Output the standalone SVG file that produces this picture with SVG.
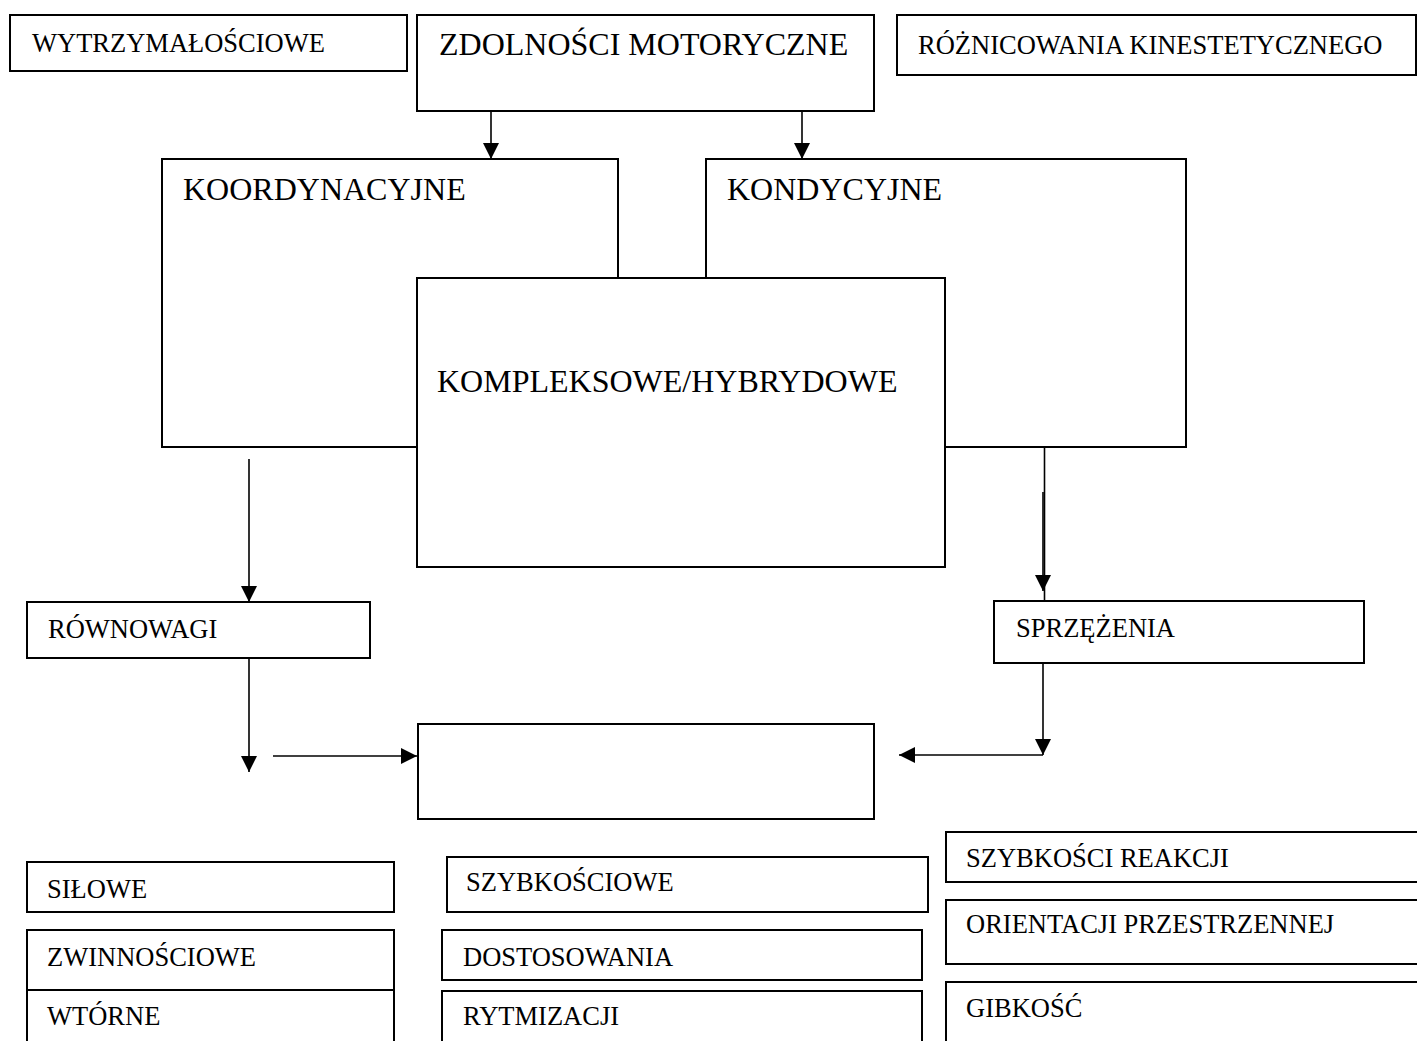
<svg xmlns="http://www.w3.org/2000/svg" width="1417" height="1041" viewBox="0 0 1417 1041">
  <style>
    .box { fill: #fff; stroke: #000; stroke-width: 2; }
    .lbl { font-family: "Liberation Serif", "Times New Roman", serif; font-size: 26.5px; fill: #000; }
    .big { font-family: "Liberation Serif", "Times New Roman", serif; font-size: 32px; fill: #000; }
    .wire { fill: none; stroke: #000; stroke-width: 1.6; }
  </style>
  <defs>
    <marker id="arrow" viewBox="0 0 16 16" refX="16" refY="8" markerWidth="16" markerHeight="16" markerUnits="userSpaceOnUse" orient="auto">
      <path d="M0,0 L16,8 L0,16 Z" fill="#000"/>
    </marker>
  </defs>

  <rect width="1417" height="1041" fill="#fff"/>

  <!-- top row -->
  <g id="wytrzymalosciowe">
    <rect class="box" x="10" y="15" width="397" height="56"/>
    <text class="lbl" x="32" y="52">WYTRZYMAŁOŚCIOWE</text>
  </g>
  <g id="zdolnosci-motoryczne">
    <rect class="box" x="417" y="15" width="457" height="96"/>
    <text class="big" x="439" y="55">ZDOLNOŚCI MOTORYCZNE</text>
  </g>
  <g id="roznicowania">
    <rect class="box" x="897" y="15" width="519" height="60"/>
    <text class="lbl" x="918" y="54">RÓŻNICOWANIA KINESTETYCZNEGO</text>
  </g>

  <!-- main categories -->
  <g id="koordynacyjne">
    <rect class="box" x="162" y="159" width="456" height="288"/>
    <text class="big" x="183" y="200">KOORDYNACYJNE</text>
  </g>
  <g id="kondycyjne">
    <rect class="box" x="706" y="159" width="480" height="288"/>
    <text class="big" x="727" y="200">KONDYCYJNE</text>
  </g>
  <g id="kompleksowe">
    <rect class="box" x="417" y="278" width="528" height="289"/>
    <text class="big" x="437" y="392">KOMPLEKSOWE/HYBRYDOWE</text>
  </g>

  <!-- middle row -->
  <g id="rownowagi">
    <rect class="box" x="27" y="602" width="343" height="56"/>
    <text class="lbl" x="48" y="638">RÓWNOWAGI</text>
  </g>
  <g id="sprzezenia">
    <rect class="box" x="994" y="601" width="370" height="62"/>
    <text class="lbl" x="1016" y="637">SPRZĘŻENIA</text>
  </g>
  <g id="pusty">
    <rect class="box" x="418" y="724" width="456" height="95"/>
  </g>

  <!-- bottom rows -->
  <g id="silowe">
    <rect class="box" x="27" y="862" width="367" height="50"/>
    <text class="lbl" x="47" y="898">SIŁOWE</text>
  </g>
  <g id="zwinnosciowe">
    <rect class="box" x="27" y="930" width="367" height="60"/>
    <text class="lbl" x="47" y="966">ZWINNOŚCIOWE</text>
  </g>
  <g id="wtorne">
    <rect class="box" x="27" y="990" width="367" height="70"/>
    <text class="lbl" x="47" y="1025">WTÓRNE</text>
  </g>
  <g id="szybkosciowe">
    <rect class="box" x="447" y="857" width="481" height="55"/>
    <text class="lbl" x="466" y="891">SZYBKOŚCIOWE</text>
  </g>
  <g id="dostosowania">
    <rect class="box" x="442" y="930" width="480" height="50"/>
    <text class="lbl" x="463" y="966">DOSTOSOWANIA</text>
  </g>
  <g id="rytmizacji">
    <rect class="box" x="442" y="991" width="480" height="70"/>
    <text class="lbl" x="463" y="1025">RYTMIZACJI</text>
  </g>
  <g id="szybkosci-reakcji">
    <rect class="box" x="946" y="832" width="490" height="50"/>
    <text class="lbl" x="966" y="867">SZYBKOŚCI REAKCJI</text>
  </g>
  <g id="orientacji">
    <rect class="box" x="946" y="900" width="490" height="64"/>
    <text class="lbl" x="966" y="933">ORIENTACJI PRZESTRZENNEJ</text>
  </g>
  <g id="gibkosc">
    <rect class="box" x="946" y="982" width="490" height="80"/>
    <text class="lbl" x="966" y="1017">GIBKOŚĆ</text>
  </g>

  <!-- connectors -->
  <g id="connectors">
    <line class="wire" x1="491" y1="111" x2="491" y2="159" marker-end="url(#arrow)"/>
    <line class="wire" x1="802" y1="111" x2="802" y2="159" marker-end="url(#arrow)"/>
    <line class="wire" x1="249" y1="459" x2="249" y2="602" marker-end="url(#arrow)"/>
    <line class="wire" x1="249" y1="658" x2="249" y2="772" marker-end="url(#arrow)"/>
    <line class="wire" x1="273" y1="756" x2="417" y2="756" marker-end="url(#arrow)"/>
    <line class="wire" x1="1044.5" y1="447" x2="1044.5" y2="601"/>
    <line class="wire" x1="1043" y1="492" x2="1043" y2="591" marker-end="url(#arrow)"/>
    <line class="wire" x1="1043" y1="663" x2="1043" y2="755" marker-end="url(#arrow)"/>
    <line class="wire" x1="1043" y1="755" x2="899" y2="755" marker-end="url(#arrow)"/>
  </g>
</svg>
